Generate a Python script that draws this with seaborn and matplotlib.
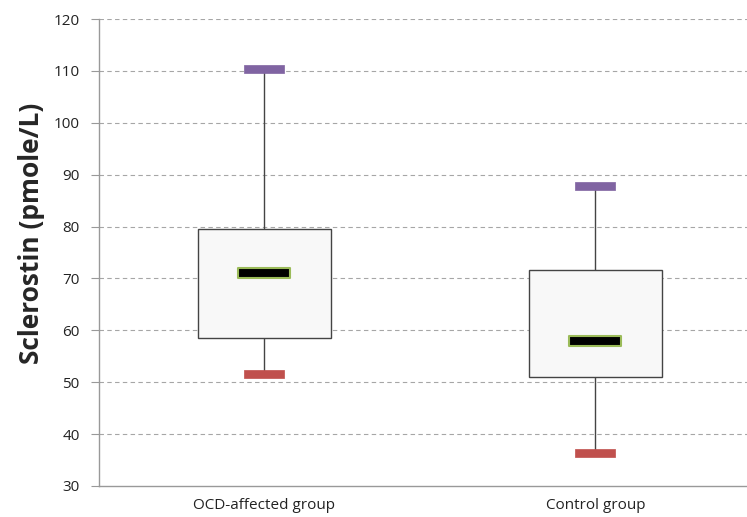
import numpy as np
import pandas as pd
import matplotlib
matplotlib.use("Agg")
import matplotlib.pyplot as plt
from matplotlib.path import Path
import seaborn as sns

# five-number summaries
groups = ["OCD-affected group", "Control group"]
minimum = [51.6, 36.3]
q1 = [58.5, 51.0]
median = [71.0, 57.9]
q3 = [79.5, 71.6]
maximum = [110.4, 87.8]

# five points per group -> quartiles land exactly on the given values
rows = []
for i, g in enumerate(groups):
    for v in [minimum[i], q1[i], median[i], q3[i], maximum[i]]:
        rows.append({"group": g, "value": v})
df = pd.DataFrame(rows)

sns.set_style("white")
plt.rcParams["font.family"] = ["Open Sans", "DejaVu Sans"]

fig = plt.figure(figsize=(7.47, 5.17), dpi=100)
ax = fig.add_axes([0.1325, 0.06, 0.886, 0.9032])

sns.boxplot(
    data=df,
    x="group",
    y="value",
    order=groups,
    whis=np.inf,
    width=0.4,
    showcaps=False,
    color="#f8f8f8",
    linecolor="#444444",
    linewidth=1.0,
    medianprops={"visible": False},
    ax=ax,
)
for patch in ax.patches:
    patch.set_facecolor("#f8f8f8")
    patch.set_edgecolor("#444444")

# flat bar markers
cap_marker = Path([(-1, -0.22), (1, -0.22), (1, 0.22), (-1, 0.22), (-1, -0.22)],
                  [Path.MOVETO, Path.LINETO, Path.LINETO, Path.LINETO, Path.CLOSEPOLY])
med_marker = Path([(-1, -0.19), (1, -0.19), (1, 0.19), (-1, 0.19), (-1, -0.19)],
                  [Path.MOVETO, Path.LINETO, Path.LINETO, Path.LINETO, Path.CLOSEPOLY])

caps_df = pd.DataFrame({"group": groups, "maximum": maximum,
                        "minimum": minimum, "median": median})
sns.scatterplot(data=caps_df, x="group", y="maximum", marker=cap_marker, s=800,
                color="#8064a2", edgecolor="#8064a2", linewidth=0.5, ax=ax, zorder=5)
sns.scatterplot(data=caps_df, x="group", y="minimum", marker=cap_marker, s=800,
                color="#c0504d", edgecolor="#c0504d", linewidth=0.5, ax=ax, zorder=5)
sns.scatterplot(data=caps_df, x="group", y="median", marker=med_marker, s=1400,
                color="black", edgecolor="#9bbb59", linewidth=1.5, ax=ax, zorder=5)

ax.set_xlim(-0.5, 1.5)
ax.set_ylim(30, 120)
ax.set_yticks(range(30, 121, 10))
for y in range(40, 121, 10):
    ax.axhline(y, color="#a6a6a6", linestyle=(0, (4, 3)), linewidth=0.8, zorder=0)

ax.set_xticks([0, 1])
ax.set_xticklabels(groups, fontsize=11, color="#222222")
ax.tick_params(axis="x", length=0, pad=9)
ax.set_xticks([0.5], minor=True)
ax.tick_params(axis="x", which="minor", length=5, color="#999999", direction="out")
ax.tick_params(axis="y", length=6, color="#999999", direction="out", labelsize=11,
               labelcolor="#222222", pad=8, left=True)

ax.set_xlabel("")
ax.set_ylabel("Sclerostin (pmole/L)", fontsize=19, fontweight="bold")
ax.yaxis.set_label_coords(-0.082, 0.54)

for side in ["top", "right"]:
    ax.spines[side].set_visible(False)
for side in ["left", "bottom"]:
    ax.spines[side].set_color("#999999")
    ax.spines[side].set_linewidth(1.0)

plt.savefig("out.png", dpi=100)
